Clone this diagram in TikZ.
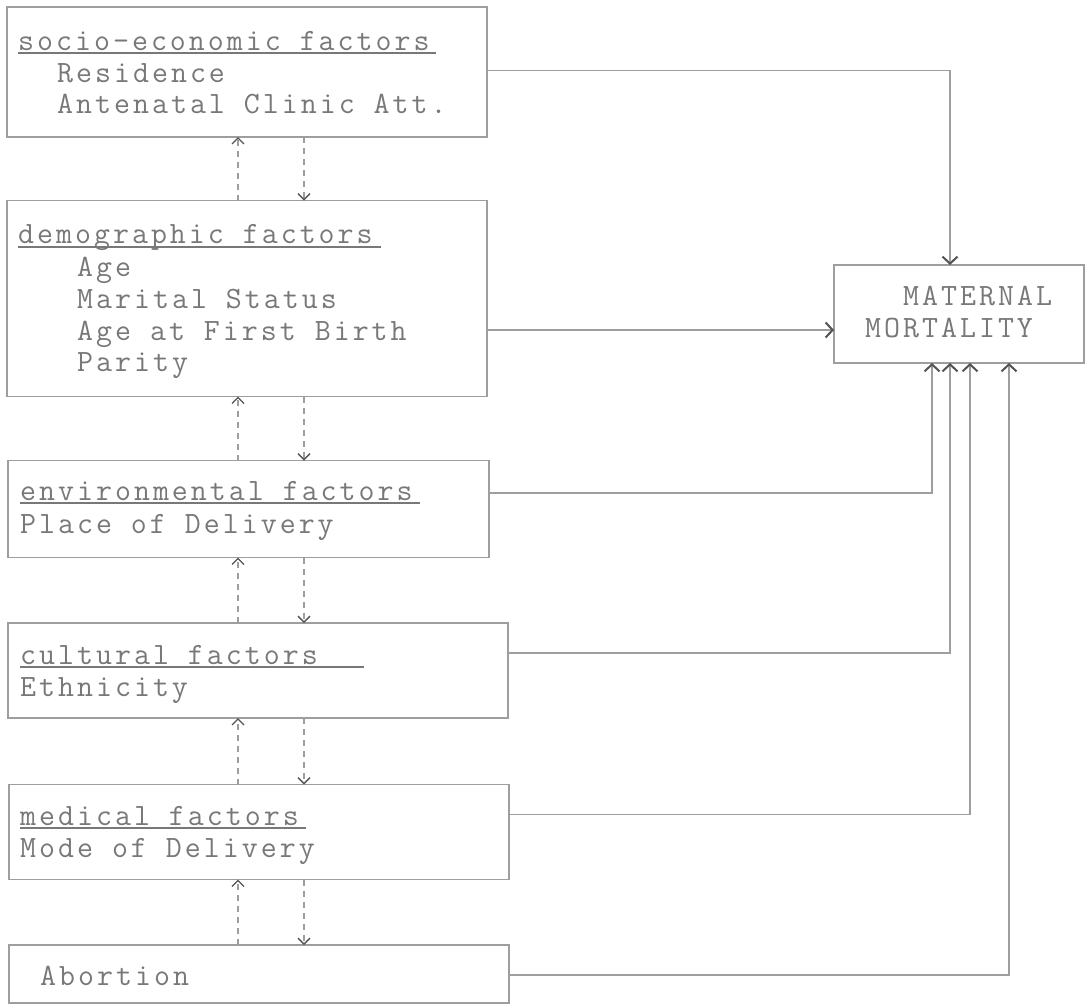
\documentclass[tikz,border=0pt]{standalone}
\usepackage{fontspec}
\newfontfamily\tw{Latin Modern Mono}[LetterSpace=9.7]
\usetikzlibrary{arrows.meta,calc}
\definecolor{txtc}{gray}{0.47}
\definecolor{lineg}{gray}{0.62}
\definecolor{tipc}{gray}{0.33}
\begin{document}
\begin{tikzpicture}[x=1pt,y=-1pt,
  box/.style={draw=lineg,line width=1.3pt,rectangle,inner sep=0pt,outer sep=0pt},
  lbl/.style={anchor=base west,inner sep=0pt,text=txtc,font=\tw\fontsize{31}{35}\selectfont},
  uline/.style={draw=txtc,line width=1.1pt},
  conn/.style={draw=lineg,line width=1.3pt,-{Straight Barb[length=7pt,width=15pt,line width=2pt,color=tipc]}},
  dconn/.style={draw=lineg,line width=1.1pt,dash pattern=on 6pt off 5pt,-{Straight Barb[length=6pt,width=12pt,line width=1.4pt,color=tipc]}}]
\useasboundingbox (0,0) rectangle (1092,1007);
\fill[white] (0,0) rectangle (1092,1007);

% boxes
\node[box,minimum width=480pt,minimum height=130pt] (b1) at (247,72) {};
\node[box,minimum width=480pt,minimum height=196pt] (b2) at (247,298.5) {};
\node[box,minimum width=481pt,minimum height=97pt] (b3) at (248.5,509) {};
\node[box,minimum width=500pt,minimum height=95pt] (b4) at (258,670.5) {};
\node[box,minimum width=500pt,minimum height=95pt] (b5) at (259,832) {};
\node[box,minimum width=500pt,minimum height=58pt] (b6) at (259,974) {};
\node[box,minimum width=250pt,minimum height=98pt] (mm) at (959,314) {};

% texts
\node[lbl] (t1) at (18,50) {socio-economic factors};
\node[lbl] (t1a) at (57,82) {Residence};
\node[lbl] (t1b) at (57,113) {Antenatal Clinic Att.};
\node[lbl] (t2) at (18,243) {demographic factors};
\node[lbl] (t2a) at (77,276) {Age};
\node[lbl] (t2b) at (77,308) {Marital Status};
\node[lbl] (t2c) at (77,340) {Age at First Birth};
\node[lbl] (t2d) at (77,371) {Parity};
\node[lbl] (t3) at (20,500) {environmental factors};
\node[lbl] (t3a) at (20,533) {Place of Delivery};
\node[lbl] (t4) at (20,664) {cultural factors};
\node[lbl] (t4a) at (20,696) {Ethnicity};
\node[lbl] (t5) at (20,825) {medical factors};
\node[lbl] (t5a) at (20,857) {Mode of Delivery};
\node[lbl] (t6) at (40,985) {Abortion};
\node[lbl] (m1) at (903,305) {MATERNAL};
\node[lbl] (m2) at (865,337) {MORTALITY};

% underlines
\draw[uline] ([yshift=-3pt]t1.base west) -- ++(418,0);
\draw[uline] ([yshift=-4pt]t2.base west) -- ++(363,0);
\draw[uline] ([yshift=-3pt]t3.base west) -- ++(400,0);
\draw[uline] ([yshift=-3pt]t4.base west) -- ++(344,0);
\draw[uline] ([yshift=-3pt]t5.base west) -- ++(286,0);

% dashed two-way links
\coordinate (ux) at (238,0);
\coordinate (dx) at (304,0);
\foreach \a/\b in {b1/b2,b2/b3,b3/b4,b4/b5,b5/b6}{
  \draw[dconn] (\b.north -| ux) -- (\a.south -| ux);
  \draw[dconn] (\a.south -| dx) -- (\b.north -| dx);
}

% connectors to maternal mortality
\coordinate (s2) at ([yshift=-31.5pt]b2.east);
\draw[conn] ([yshift=1.5pt]b1.east) -| ([xshift=-9pt]mm.north);
\draw[conn] (s2) -- (mm.west |- s2);
\draw[conn] ([yshift=16pt]b3.east) -| ([xshift=-27pt]mm.south);
\draw[conn] ([yshift=17.5pt]b4.east) -| ([xshift=-9pt]mm.south);
\draw[conn] ([yshift=17.5pt]b5.east) -| ([xshift=11pt]mm.south);
\draw[conn] ([yshift=-1pt]b6.east) -| ([xshift=50pt]mm.south);
\end{tikzpicture}
\end{document}
